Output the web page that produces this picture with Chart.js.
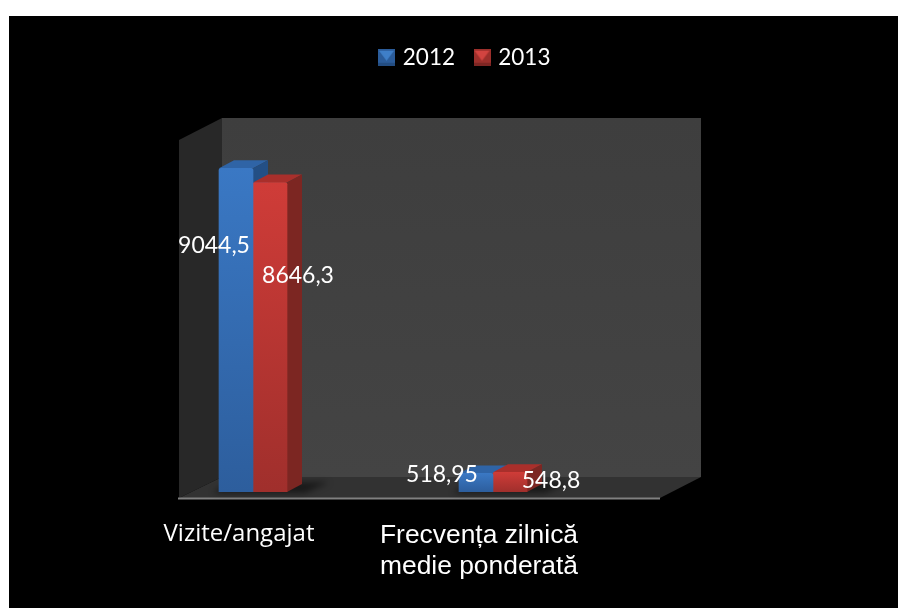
<!DOCTYPE html>
<html>
<head>
<meta charset="utf-8">
<title>Vizite</title>
<script src="https://cdn.jsdelivr.net/npm/chart.js@4"></script>
<style>
html, body { margin: 0; padding: 0; background: #fff; }
#wrap { position: relative; width: 898px; height: 608px; }
</style>
</head>
<body>
<div id="wrap"><canvas id="chart" width="898" height="608"></canvas></div>
<script>
var categories = ['Vizite/angajat', ['Frecvența zilnică', 'medie ponderată']];
var series2012 = [9044.5, 518.95];
var series2013 = [8646.3, 548.8];
var seriesNames = ['2012', '2013'];

var depth = { x: 15, y: -8 };        // bar depth
var wall = { x: 43, y: -22 };        // floor depth
var labelFont = 'Lato, "Open Sans", sans-serif';

// little bevelled marker used in the legend
function legendMarker(base, light, dark) {
    var c = document.createElement('canvas');
    c.width = 17; c.height = 17;
    var g = c.getContext('2d');
    g.fillStyle = base;
    g.fillRect(0, 0, 17, 17);
    g.fillStyle = dark;
    g.fillRect(0, 14, 17, 3);
    g.fillStyle = light;
    g.beginPath();
    g.moveTo(1, 2); g.lineTo(16, 2); g.lineTo(8.5, 12);
    g.closePath();
    g.fill();
    return c;
}

function barGradient(light, dark) {
    return function(ctx) {
        var chart = ctx.chart;
        if (!chart.chartArea || ctx.type !== 'data') return light;
        var base = chart.scales.y.getPixelForValue(0);
        var top = chart.scales.y.getPixelForValue(ctx.raw);
        var g = chart.ctx.createLinearGradient(0, top, 0, base);
        g.addColorStop(0, light);
        g.addColorStop(1, dark);
        return g;
    };
}

function poly(c, col, pts) {
    c.fillStyle = col;
    c.beginPath();
    c.moveTo(pts[0], pts[1]);
    for (var i = 2; i < pts.length; i += 2) c.lineTo(pts[i], pts[i + 1]);
    c.closePath();
    c.fill();
}

var sideColors = [
    { top: '#2f64a6', side: '#234f85' },
    { top: '#a92f2b', side: '#7c2622' }
];

// offsets of the value labels from the centre of the bar's front top edge
var labelShift = [
    [{ x: -22, y: 77 }, { x: 28, y: 93 }],
    [{ x: -34, y: 1 }, { x: 41, y: 8 }]
];

var room3d = {
    id: 'room3d',
    beforeInit: function(chart) {
        // leave the empty band between legend and plot
        var fit = chart.legend.fit;
        chart.legend.fit = function() {
            fit.call(this);
            this.height = 134 - 24;
        };
    },
    afterLayout: function(chart) {
        chart.legend.left += 93;
        chart.legend.right += 93;
    },
    beforeDraw: function(chart) {
        var c = chart.ctx, a = chart.chartArea;
        c.save();
        c.fillStyle = '#000';
        c.fillRect(9, 16, chart.width - 9, chart.height - 16);

        var x0 = a.left + 46, x1 = a.right + 47;
        var yTop = a.top + 6, yBase = a.bottom + 6;
        var floorY = yBase + wall.y + 1;

        var back = c.createLinearGradient(0, yTop + wall.y, 0, floorY);
        back.addColorStop(0, '#3e3e3e');
        back.addColorStop(1, '#444444');
        poly(c, back, [x0 + wall.x, yTop + wall.y, x1 + wall.x - 2, yTop + wall.y, x1 + wall.x - 2, floorY, x0 + wall.x, floorY]);
        poly(c, '#282828', [x0, yTop, x0 + wall.x, yTop + wall.y, x0 + wall.x, floorY, x0, yBase]);
        poly(c, '#323232', [x0, yBase, x0 + wall.x, floorY, x1 + wall.x - 2, floorY, x1, yBase]);

        c.fillStyle = '#808080';
        c.fillRect(x0 - 1, yBase - 0.5, x1 - x0 + 1, 2);
        c.restore();
    },
    beforeDatasetsDraw: function(chart) {
        var c = chart.ctx;
        c.save();
        // soft shadow on the floor
        var m0 = chart.getDatasetMeta(0), m1 = chart.getDatasetMeta(1);
        c.filter = 'blur(3px)';
        m0.data.forEach(function(b, i) {
            var left = b.x - b.width / 2, right = m1.data[i].x + b.width / 2, y = b.base;
            poly(c, 'rgba(0,0,0,0.5)', [left - 6, y + 1, left + 10, y - 10, right + 42, y - 10, right + 18, y + 1]);
        });
        c.filter = 'none';

        [m0, m1].forEach(function(meta, d) {
            meta.data.forEach(function(b) {
                var l = b.x - b.width / 2, r = b.x + b.width / 2, t = b.y, y = b.base;
                poly(c, sideColors[d].top, [l, t, l + depth.x, t + depth.y, r + depth.x, t + depth.y, r, t]);
                poly(c, sideColors[d].side, [r, t, r + depth.x, t + depth.y, r + depth.x, y + depth.y, r, y]);
            });
        });
        c.restore();
    },
    afterDatasetsDraw: function(chart) {
        var c = chart.ctx;
        c.save();
        c.font = '23px ' + labelFont;
        c.fillStyle = '#fff';
        c.textAlign = 'center';
        c.textBaseline = 'middle';
        chart.data.datasets.forEach(function(ds, d) {
            chart.getDatasetMeta(d).data.forEach(function(b, i) {
                var s = labelShift[i][d];
                var text = String(ds.data[i]).replace('.', ',');
                c.fillText(text, b.x + s.x, b.y + s.y);
            });
        });
        c.restore();
    }
};

new Chart(document.getElementById('chart').getContext('2d'), {
    type: 'bar',
    data: {
        labels: categories,
        datasets: [{
            label: seriesNames[0],
            data: series2012,
            backgroundColor: barGradient('#3a78c4', '#2d5e9d'),
            borderRadius: { topLeft: 2, topRight: 2 },
            pointStyle: legendMarker('#2b5c9a', '#3f7fc8', '#234d82'),
            barThickness: 34
        }, {
            label: seriesNames[1],
            data: series2013,
            backgroundColor: barGradient('#cf3c38', '#a02f2c'),
            borderRadius: { topLeft: 2, topRight: 2 },
            pointStyle: legendMarker('#9c2f2b', '#d24440', '#7e2623'),
            barThickness: 34
        }]
    },
    plugins: [room3d],
    options: {
        responsive: false,
        animation: false,
        layout: { padding: { left: 133, right: 285, top: 24, bottom: 0 } },
        scales: {
            x: {
                grid: { display: false },
                border: { display: false },
                afterFit: function(scale) { scale.height = 116; },
                ticks: {
                    color: '#fff',
                    autoSkip: false,
                    maxRotation: 0,
                    labelOffset: -14,
                    padding: 20,
                    font: function(ctx) {
                        return ctx.index === 0
                            ? { family: '"Open Sans", sans-serif', size: 24 }
                            : { family: '"Liberation Sans", Arial, sans-serif', size: 26.4, lineHeight: 1.17 };
                    }
                }
            },
            y: { display: false, min: 0, max: 10000 }
        },
        plugins: {
            legend: {
                position: 'top',
                labels: {
                    color: '#fff',
                    font: { family: labelFont, size: 22.5 },
                    usePointStyle: true,
                    boxWidth: 10,
                    padding: 22
                }
            },
            tooltip: { enabled: false }
        }
    }
});
</script>
</body>
</html>
